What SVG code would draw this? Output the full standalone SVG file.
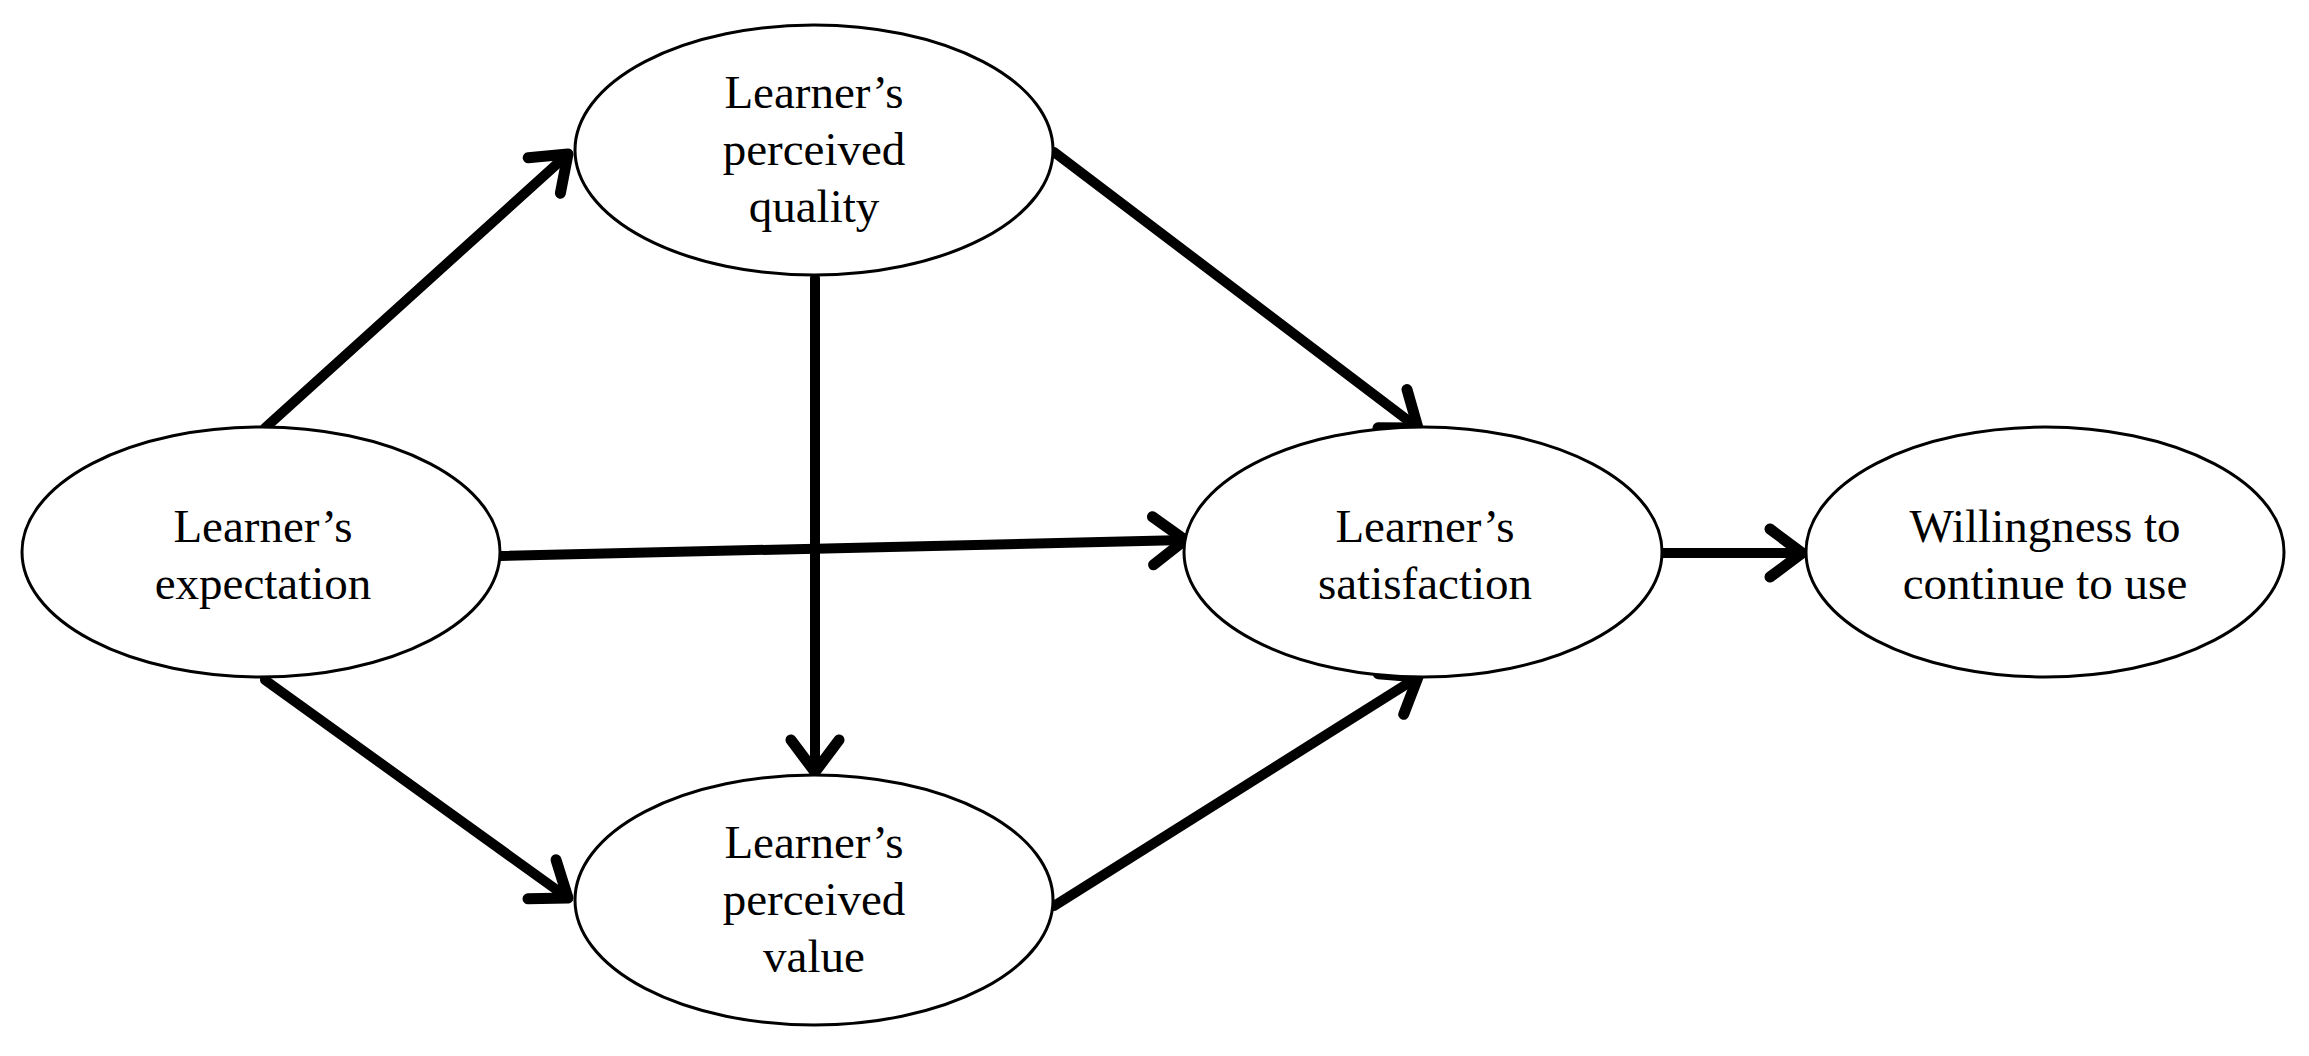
<svg xmlns="http://www.w3.org/2000/svg" width="2309" height="1056" viewBox="0 0 2309 1056">
<style>
ellipse{fill:#fff;stroke:#000;stroke-width:3}
text{font-family:"Liberation Serif","Times New Roman",serif;font-size:47px;text-anchor:middle;fill:#000}
.c{stroke:#000;stroke-width:10;fill:none;stroke-linecap:round}
</style>
<defs>
<marker id="ah" markerUnits="userSpaceOnUse" markerWidth="64" markerHeight="64" refX="46" refY="32" orient="auto">
<path d="M14,8 L46,32 L14,56" fill="none" stroke="#000" stroke-width="11" stroke-linecap="round" stroke-linejoin="round"/>
</marker>
</defs>
<g id="connectors">
<line class="c" x1="265" y1="428" x2="568" y2="154" marker-end="url(#ah)"/>
<line class="c" x1="500" y1="556" x2="1185" y2="540" marker-end="url(#ah)"/>
<line class="c" x1="265" y1="680" x2="568" y2="898" marker-end="url(#ah)"/>
<line class="c" x1="815" y1="278" x2="815" y2="772" marker-end="url(#ah)"/>
<line class="c" x1="1054" y1="152" x2="1418" y2="428" marker-end="url(#ah)"/>
<line class="c" x1="1054" y1="906" x2="1418" y2="677" marker-end="url(#ah)"/>
<line class="c" x1="1662" y1="553" x2="1802" y2="553" marker-end="url(#ah)"/>
</g>
<g id="expectation"><ellipse cx="261" cy="552" rx="239" ry="125"/><text x="263" y="542">Learner’s</text><text x="263" y="599">expectation</text></g>
<g id="quality"><ellipse cx="814" cy="150" rx="239" ry="125"/><text x="814" y="108">Learner’s</text><text x="814" y="165">perceived</text><text x="814" y="222">quality</text></g>
<g id="value"><ellipse cx="814" cy="900" rx="239" ry="125"/><text x="814" y="858">Learner’s</text><text x="814" y="915">perceived</text><text x="814" y="972">value</text></g>
<g id="satisfaction"><ellipse cx="1423" cy="552" rx="239" ry="125"/><text x="1425" y="542">Learner’s</text><text x="1425" y="599">satisfaction</text></g>
<g id="willingness"><ellipse cx="2045" cy="552" rx="239" ry="125"/><text x="2045" y="542">Willingness to</text><text x="2045" y="599">continue to use</text></g>
</svg>
